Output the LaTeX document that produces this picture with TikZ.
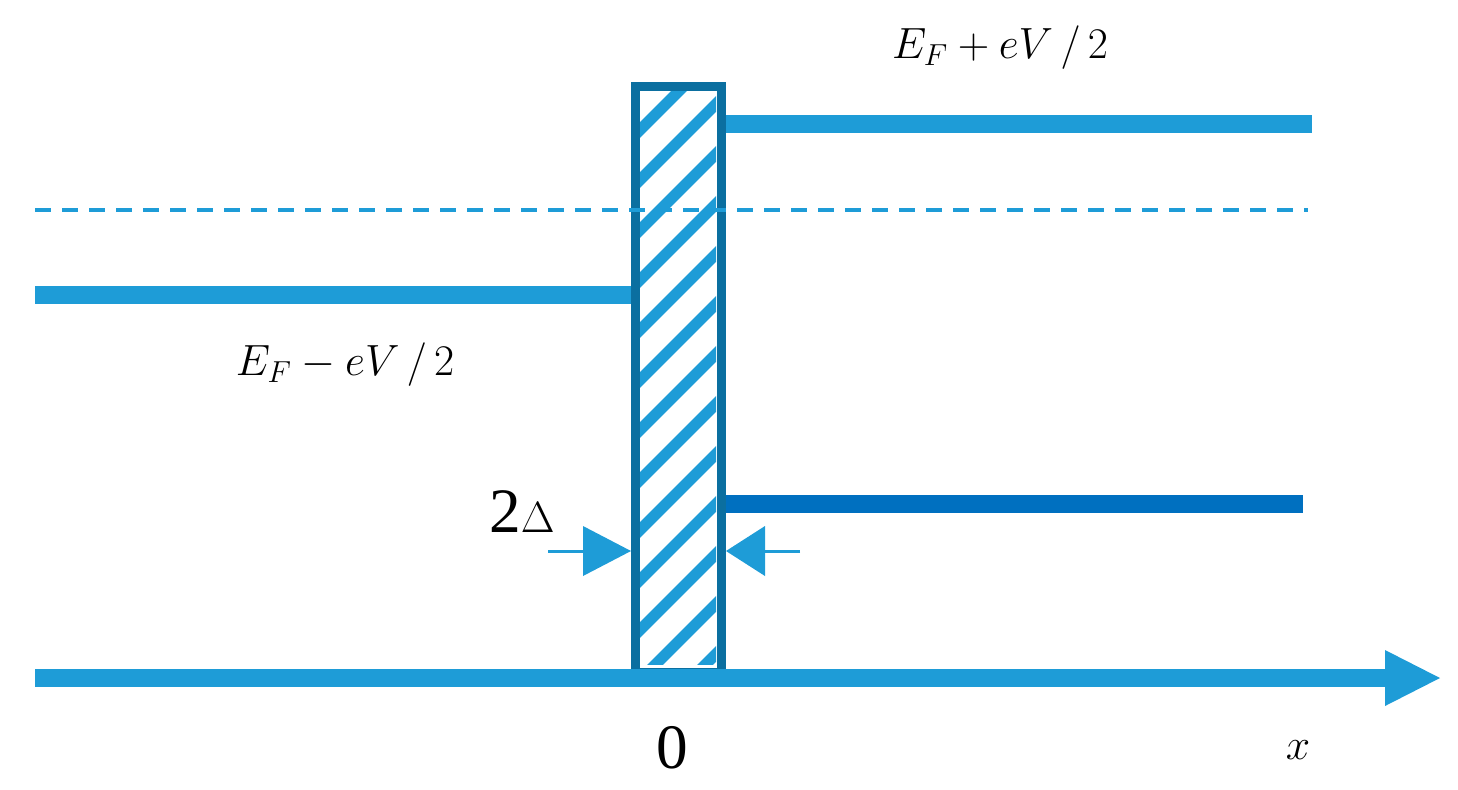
\documentclass[tikz,border=0pt]{standalone}
\usepackage{fontspec}
\setmainfont{Liberation Serif}
\begin{document}
\begin{tikzpicture}[x=0.02cm,y=-0.02cm]
\definecolor{lb}{HTML}{1E9CD7}
\definecolor{db}{HTML}{0B6FA0}
\definecolor{mb}{HTML}{0070C0}
\tikzset{lvl/.style={lb,line width=18*0.02cm},
 lbl/.style={font=\fontsize{36}{40}\selectfont},
 dim/.style={lb,line width=3*0.02cm}}
\useasboundingbox (0,0) rectangle (1458,789);
% hatch
\begin{scope}
\clip (631,83) rectangle (716,664);
\foreach \k in {0,...,16}{
 \draw[lb,line width=11*0.02cm] (600,{120+50*\k}) -- (760,{-40+50*\k});}
\end{scope}
\node[draw=db,line width=9*0.02cm,minimum width=86*0.02cm,minimum height=586*0.02cm,inner sep=0,anchor=north west] (bar) at (631,82) {};
\coordinate (ta) at (1312,124);
\draw[lvl] (bar.east |- ta) -- (ta);
\coordinate (da) at (35,210); \coordinate (db2) at (1308,210);
\draw[lb,line width=4*0.02cm,dash pattern=on 16*0.02cm off 11*0.02cm] (da) -- (db2);
\coordinate (la) at (35,295);
\draw[lvl] (la) -- (bar.west |- la);
\coordinate (ra) at (1303,504);
\draw[mb,line width=18*0.02cm] (bar.east |- ra) -- (ra);
\coordinate (ax0) at (35,678); \coordinate (ax1) at (1385,678); \coordinate (ax2) at (1440,678);
\draw[lvl] (ax0) -- (ax1);
\fill[lb] (1385,650) -- (ax2) -- (1385,706) -- cycle;
% dimension arrows
\coordinate (a1) at (548,551); \coordinate (a2) at (800,551);
\draw[dim] (a1) -- (583,551);
\fill[lb] (583,526) -- (bar.west |- a1) -- (583,576) -- cycle;
\draw[dim] (a2) -- (765,551);
\fill[lb] (765,526) -- (bar.east |- a2) -- (765,576) -- cycle;
\node[lbl] (t1) at (1000,48) {$E_{\scriptscriptstyle F}+eV\,/\,2$};
\node[lbl] (t2) at (345,365) {$E_{\scriptscriptstyle F}-eV\,/\,2$};
\node[lbl] (t3) at (522,512) {2$\Delta$};
\node[lbl] (t4) at (672,748) {0};
\node[lbl] (t5) at (1298,750) {$x$};
\end{tikzpicture}
\end{document}
